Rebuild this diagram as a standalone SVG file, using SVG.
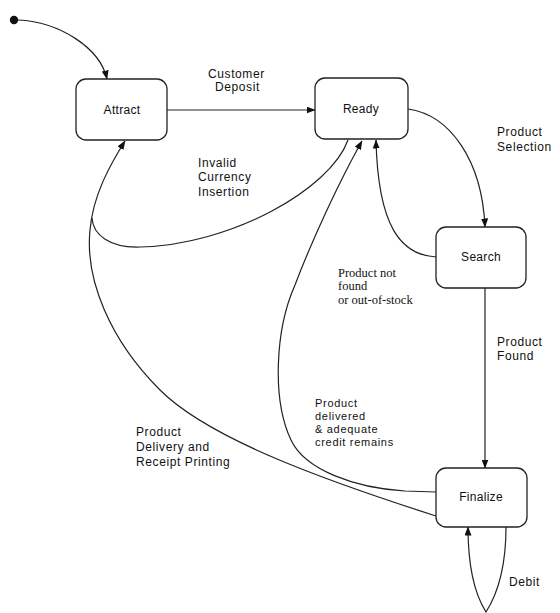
<svg xmlns="http://www.w3.org/2000/svg" width="560" height="613" viewBox="0 0 560 613">
  <style>
    .node rect { fill: #ffffff; stroke: #222222; stroke-width: 1.3; }
    .node text { font-family: "Liberation Sans", Arial, sans-serif; font-size: 12px; fill: #111111; text-anchor: middle; letter-spacing: 0.3px; }
    .edge { fill: none; stroke: #222222; stroke-width: 1.2; }
    .lbl { font-family: "Liberation Sans", Arial, sans-serif; font-size: 12px; fill: #111111; letter-spacing: 0.6px; }
    .lbl-c { font-family: "Liberation Sans", Arial, sans-serif; font-size: 11px; fill: #111111; letter-spacing: 0.7px; }
    .lbl-s { font-family: "Liberation Serif", "Times New Roman", serif; font-size: 12.5px; fill: #111111; }
  </style>
  <defs>
    <marker id="arrow" markerWidth="9" markerHeight="7" refX="8.5" refY="3.5" orient="auto" markerUnits="userSpaceOnUse">
      <path d="M0,0 L9,3.5 L0,7 Z" fill="#111111"/>
    </marker>
  </defs>

  <rect width="560" height="613" fill="#ffffff"/>

  <!-- transitions -->
  <g id="connectors">
    <circle cx="14" cy="20" r="4.2" fill="#111111"/>
    <path class="edge" d="M18,20 C60,22 100,48 107,79" marker-end="url(#arrow)"/>
    <path class="edge" d="M167,110 L315,110" marker-end="url(#arrow)"/>
    <path class="edge" d="M408,109 C450,115 482,160 485,227" marker-end="url(#arrow)"/>
    <path class="edge" d="M436,257 C400,255 378,225 376,140" marker-end="url(#arrow)"/>
    <path class="edge" d="M485,288 L485,468" marker-end="url(#arrow)"/>
    <path class="edge" d="M348,140 C330,190 230,245 140,247 C110,248 93,235 92,218"/>
    <path class="edge" d="M436,516 C330,482 210,440 160,390 C110,340 85,280 90,230 C93,195 110,165 125,141" marker-end="url(#arrow)"/>
    <path class="edge" d="M436,492 L405,491 C355,488 305,470 291,440 C272,400 275,330 295,285 C312,240 340,180 362,141" marker-end="url(#arrow)"/>
    <path class="edge" d="M506,527 C506,560 500,590 486,612 C472,590 468,560 468,527" marker-end="url(#arrow)"/>
  </g>

  <!-- states -->
  <g id="attract" class="node">
    <rect x="76" y="79" width="91" height="61" rx="10"/>
    <text x="122" y="114">Attract</text>
  </g>
  <g id="ready" class="node">
    <rect x="315" y="78" width="93" height="61" rx="10"/>
    <text x="361" y="113">Ready</text>
  </g>
  <g id="search" class="node">
    <rect x="436" y="227" width="90" height="61" rx="10"/>
    <text x="481" y="261">Search</text>
  </g>
  <g id="finalize" class="node">
    <rect x="436" y="468" width="91" height="59" rx="10"/>
    <text x="481" y="501">Finalize</text>
  </g>

  <!-- transition labels -->
  <g id="labels">
    <text class="lbl" x="208" y="78">Customer</text>
    <text class="lbl" x="215" y="91">Deposit</text>
    <text class="lbl" x="497" y="136">Product</text>
    <text class="lbl" x="497" y="151">Selection</text>
    <text class="lbl" x="198" y="167">Invalid</text>
    <text class="lbl" x="198" y="181">Currency</text>
    <text class="lbl" x="198" y="196">Insertion</text>
    <text class="lbl-s" x="338" y="277">Product not</text>
    <text class="lbl-s" x="338" y="290">found</text>
    <text class="lbl-s" x="338" y="304">or out-of-stock</text>
    <text class="lbl" x="497" y="346">Product</text>
    <text class="lbl" x="497" y="360">Found</text>
    <text class="lbl-c" x="315" y="407">Product</text>
    <text class="lbl-c" x="315" y="420">delivered</text>
    <text class="lbl-c" x="315" y="433">&amp; adequate</text>
    <text class="lbl-c" x="315" y="446">credit remains</text>
    <text class="lbl" x="136" y="436">Product</text>
    <text class="lbl" x="136" y="451">Delivery and</text>
    <text class="lbl" x="136" y="466">Receipt Printing</text>
    <text class="lbl" x="509" y="586">Debit</text>
  </g>
</svg>
